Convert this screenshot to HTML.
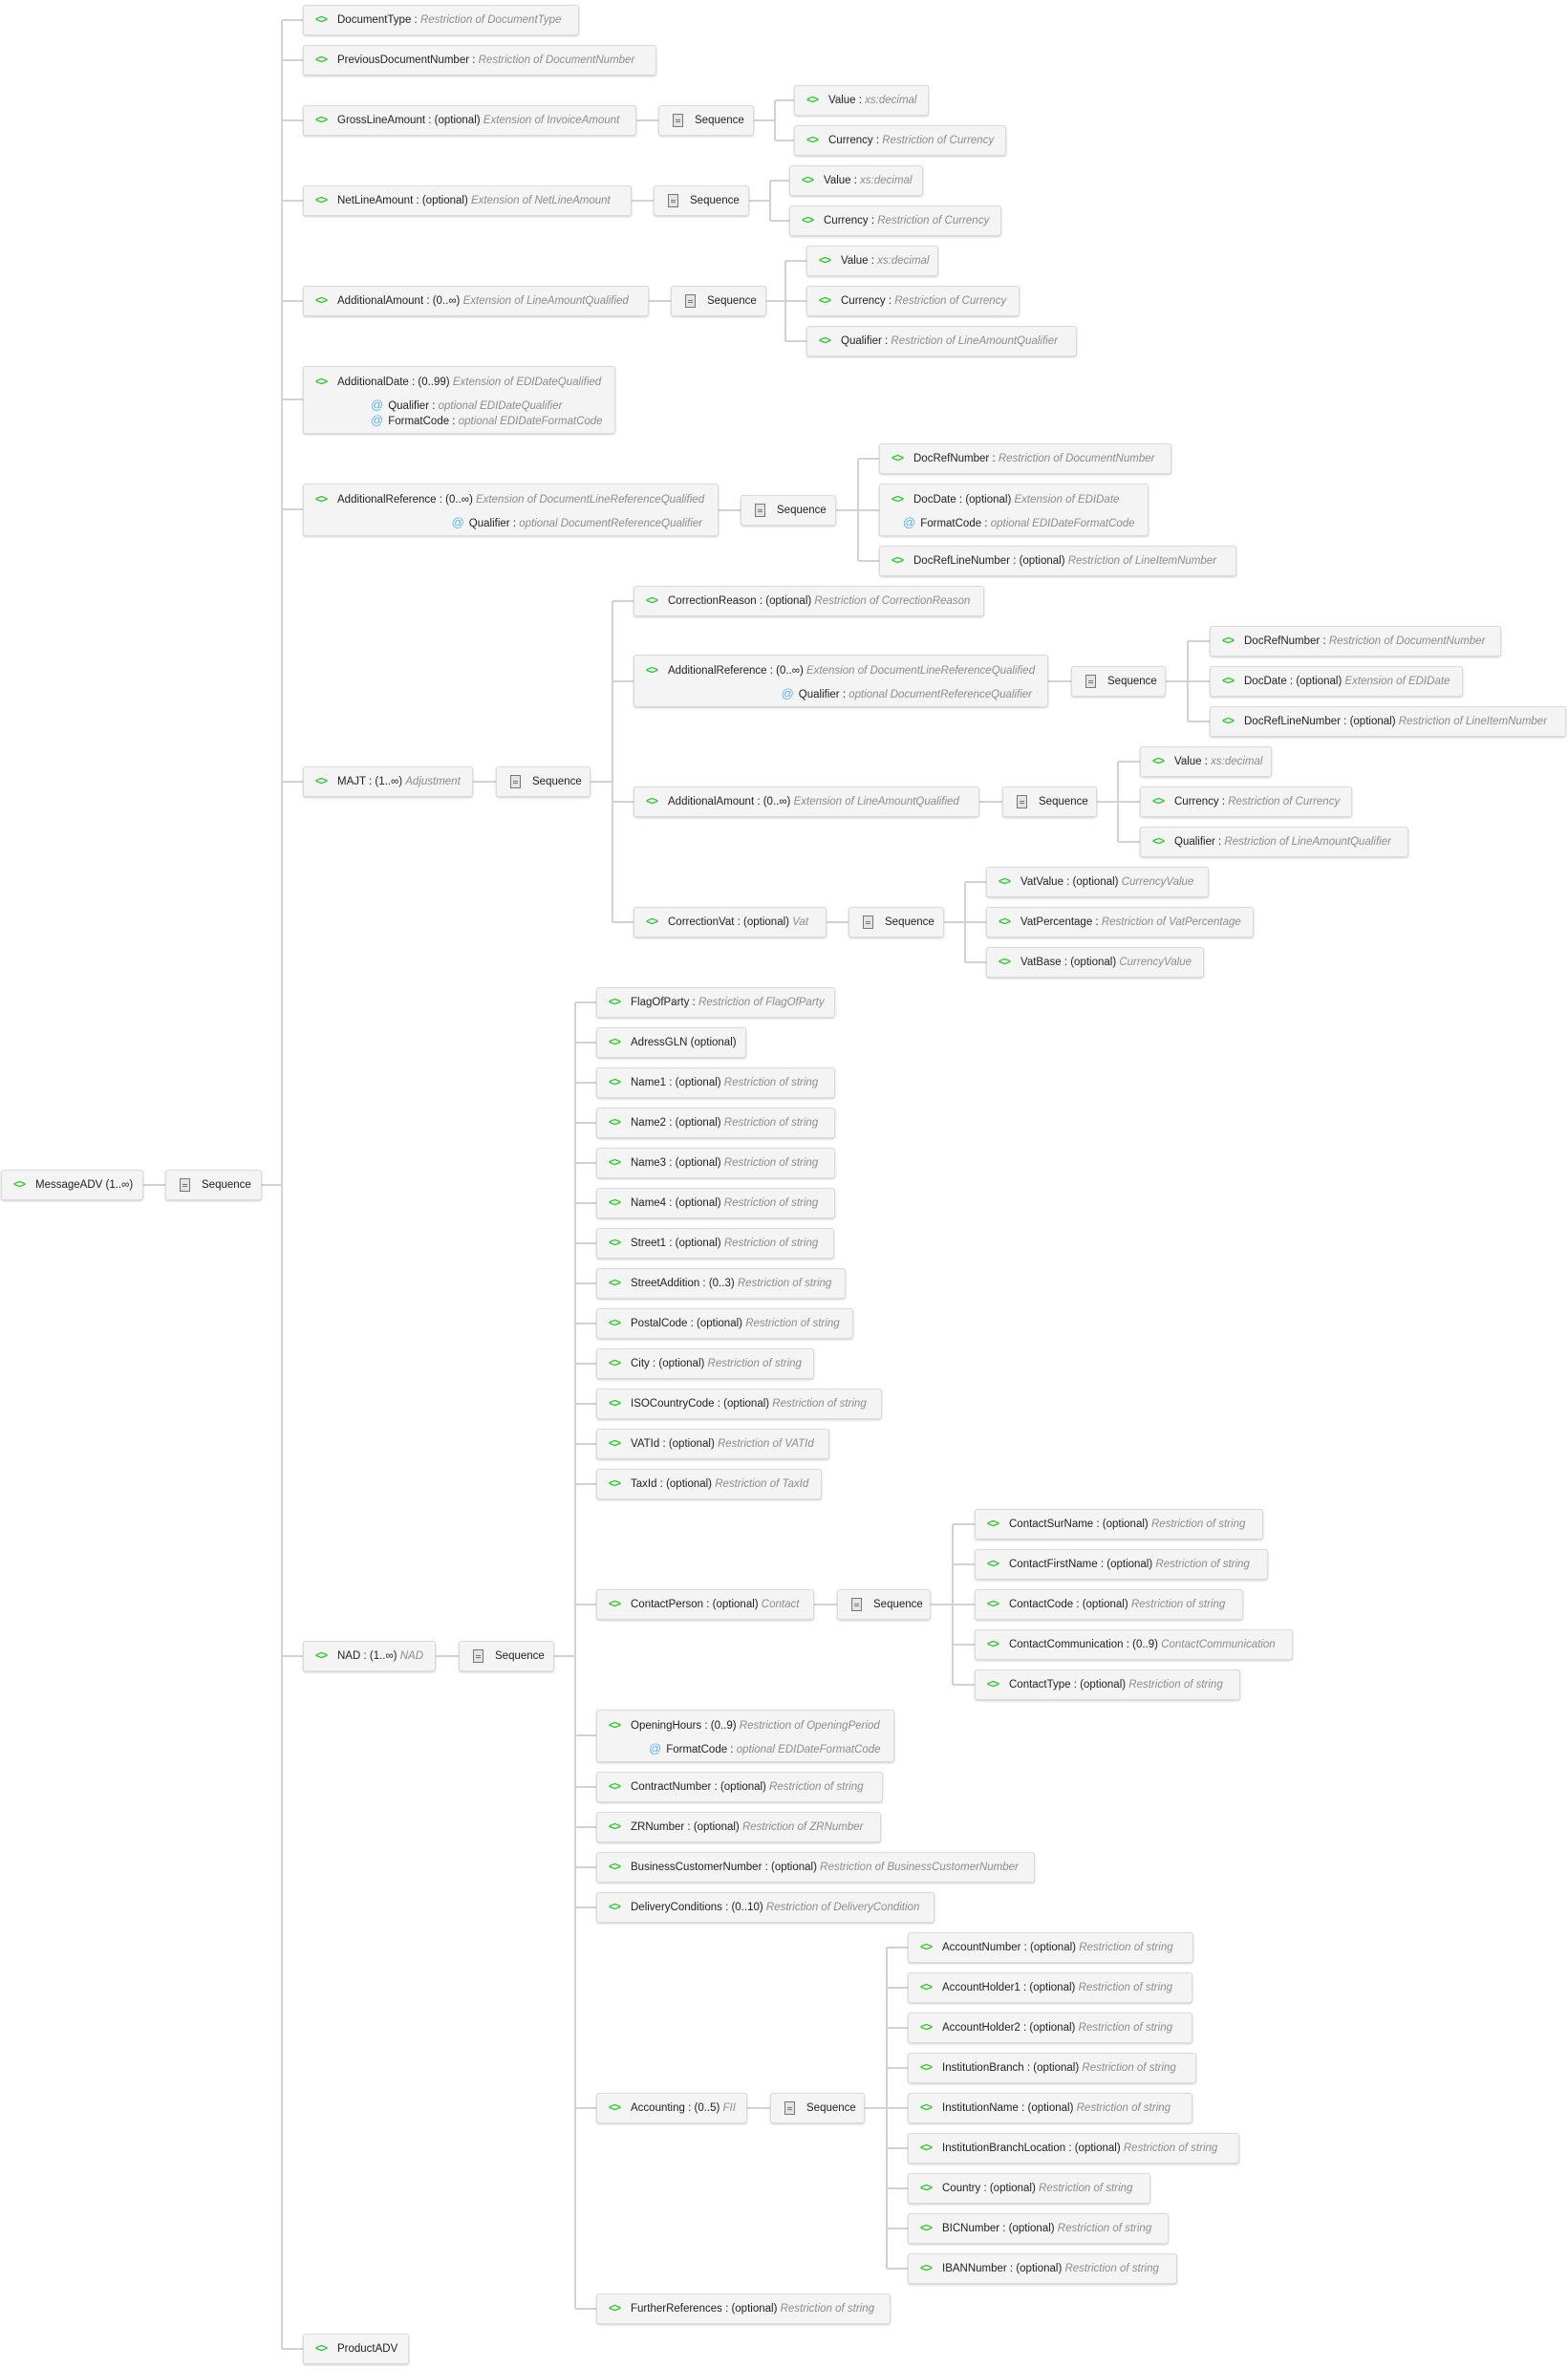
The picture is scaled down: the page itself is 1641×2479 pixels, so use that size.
<!DOCTYPE html>
<html><head><meta charset="utf-8"><style>
body{margin:0;width:1641px;height:2479px;background:#fff;position:relative;overflow:hidden;font-family:"Liberation Sans",sans-serif}
.n{position:absolute;height:32px;background:#f4f4f4;border:1px solid #dadada;border-radius:3px;box-shadow:0 1px 2px rgba(0,0,0,.2);box-sizing:border-box;white-space:nowrap;overflow:hidden;font-size:11.5px;color:#222}
.n .t{position:absolute;left:35px;top:8px;line-height:15px}
.n .e{position:absolute;left:12px;top:7px;color:#2ec82e;font-weight:bold;font-size:12px;line-height:15px;letter-spacing:-1px}
.g{color:#8c8c8c;font-style:italic}
.a{position:absolute;line-height:15px}
.at{color:#5ab4f5;font-size:13px;margin-right:5px}
.s .q{position:absolute;left:14px;top:8px;width:9px;height:12px;border:1px solid #777;background:#e4e4e4}
.s .q:before{content:"";position:absolute;left:2px;top:5px;width:5px;height:1px;background:#777;box-shadow:0 2px 0 #777}
.s .t{left:37px}
.h2{height:55px}.h3{height:71px}
.h2 .t,.h3 .t{top:9px}.h2 .e,.h3 .e{top:8px}
</style></head><body>
<svg width="1641" height="2479" style="position:absolute;left:0;top:0" fill="none" stroke="#d2d2d2" stroke-width="2">
<path d="M295 21V2458M295 21H317M295 63H317M295 126H317M295 210H317M295 315H317M295 418H317M295 533H317M295 818H317M295 1733H317M295 2458H317
M150 1240H173M274 1240H295
M666 126H689M789 126H811M811 105V147M811 105H831M811 147H831
M661 210H684M784 210H806M806 189V231M806 189H826M806 231H826
M679 315H702M802 315H822M822 273V357M822 273H844M822 315H844M822 357H844
M752 534H775M875 534H898M898 480V587M898 480H920M898 534H920M898 587H920
M495 818H519M618 818H641M641 629V965M641 629H663M641 713H663M641 839H663M641 965H663
M1097 713H1121M1220 713H1243M1243 671V755M1243 671H1266M1243 713H1266M1243 755H1266
M1025 839H1049M1148 839H1170M1170 797V881M1170 797H1193M1170 839H1193M1170 881H1193
M865 965H888M988 965H1010M1010 923V1007M1010 923H1032M1010 965H1032M1010 1007H1032
M456 1733H480M580 1733H602M602 1049V2416
M602 1049H624M602 1091H624M602 1133H624M602 1175H624M602 1217H624M602 1259H624M602 1301H624M602 1343H624M602 1385H624M602 1427H624M602 1469H624M602 1511H624M602 1553H624M602 1679H624M602 1816H624M602 1870H624M602 1912H624M602 1954H624M602 1996H624M602 2206H624M602 2416H624
M852 1679H876M974 1679H997M997 1595V1763M997 1595H1020M997 1637H1020M997 1679H1020M997 1721H1020M997 1763H1020
M782 2206H806M905 2206H928M928 2038V2374M928 2038H950M928 2080H950M928 2122H950M928 2164H950M928 2206H950M928 2248H950M928 2290H950M928 2332H950M928 2374H950"/>
</svg>

<div class="n" style="left:1px;top:1224px;width:149px"><span class="e">&lt;&gt;</span><span class="t">MessageADV (1..∞)</span></div>
<div class="n s" style="left:173px;top:1224px;width:101px"><span class="q"></span><span class="t">Sequence</span></div>

<div class="n" style="left:317px;top:5px;width:289px"><span class="e">&lt;&gt;</span><span class="t">DocumentType : <span class="g">Restriction of DocumentType</span></span></div>
<div class="n" style="left:317px;top:47px;width:370px"><span class="e">&lt;&gt;</span><span class="t">PreviousDocumentNumber : <span class="g">Restriction of DocumentNumber</span></span></div>

<div class="n" style="left:317px;top:110px;width:349px"><span class="e">&lt;&gt;</span><span class="t">GrossLineAmount : (optional) <span class="g">Extension of InvoiceAmount</span></span></div>
<div class="n s" style="left:689px;top:110px;width:100px"><span class="q"></span><span class="t">Sequence</span></div>
<div class="n" style="left:831px;top:89px;width:141px"><span class="e">&lt;&gt;</span><span class="t">Value : <span class="g">xs:decimal</span></span></div>
<div class="n" style="left:831px;top:131px;width:222px"><span class="e">&lt;&gt;</span><span class="t">Currency : <span class="g">Restriction of Currency</span></span></div>

<div class="n" style="left:317px;top:194px;width:344px"><span class="e">&lt;&gt;</span><span class="t">NetLineAmount : (optional) <span class="g">Extension of NetLineAmount</span></span></div>
<div class="n s" style="left:684px;top:194px;width:100px"><span class="q"></span><span class="t">Sequence</span></div>
<div class="n" style="left:826px;top:173px;width:140px"><span class="e">&lt;&gt;</span><span class="t">Value : <span class="g">xs:decimal</span></span></div>
<div class="n" style="left:826px;top:215px;width:222px"><span class="e">&lt;&gt;</span><span class="t">Currency : <span class="g">Restriction of Currency</span></span></div>

<div class="n" style="left:317px;top:299px;width:362px"><span class="e">&lt;&gt;</span><span class="t">AdditionalAmount : (0..∞) <span class="g">Extension of LineAmountQualified</span></span></div>
<div class="n s" style="left:702px;top:299px;width:100px"><span class="q"></span><span class="t">Sequence</span></div>
<div class="n" style="left:844px;top:257px;width:138px"><span class="e">&lt;&gt;</span><span class="t">Value : <span class="g">xs:decimal</span></span></div>
<div class="n" style="left:844px;top:299px;width:223px"><span class="e">&lt;&gt;</span><span class="t">Currency : <span class="g">Restriction of Currency</span></span></div>
<div class="n" style="left:844px;top:341px;width:283px"><span class="e">&lt;&gt;</span><span class="t">Qualifier : <span class="g">Restriction of LineAmountQualifier</span></span></div>

<div class="n h3" style="left:317px;top:383px;width:327px"><span class="e">&lt;&gt;</span><span class="t">AdditionalDate : (0..99) <span class="g">Extension of EDIDateQualified</span></span>
<span class="a" style="left:70px;top:32px"><span class="at">@</span>Qualifier : <span class="g">optional EDIDateQualifier</span></span>
<span class="a" style="left:70px;top:48px"><span class="at">@</span>FormatCode : <span class="g">optional EDIDateFormatCode</span></span></div>

<div class="n h2" style="left:317px;top:506px;width:435px"><span class="e">&lt;&gt;</span><span class="t">AdditionalReference : (0..∞) <span class="g">Extension of DocumentLineReferenceQualified</span></span>
<span class="a" style="right:16px;top:32px"><span class="at">@</span>Qualifier : <span class="g">optional DocumentReferenceQualifier</span></span></div>
<div class="n s" style="left:775px;top:518px;width:100px"><span class="q"></span><span class="t">Sequence</span></div>
<div class="n" style="left:920px;top:464px;width:306px"><span class="e">&lt;&gt;</span><span class="t">DocRefNumber : <span class="g">Restriction of DocumentNumber</span></span></div>
<div class="n h2" style="left:920px;top:506px;width:282px"><span class="e">&lt;&gt;</span><span class="t">DocDate : (optional) <span class="g">Extension of EDIDate</span></span>
<span class="a" style="left:24px;top:32px"><span class="at">@</span>FormatCode : <span class="g">optional EDIDateFormatCode</span></span></div>
<div class="n" style="left:920px;top:571px;width:374px"><span class="e">&lt;&gt;</span><span class="t">DocRefLineNumber : (optional) <span class="g">Restriction of LineItemNumber</span></span></div>

<div class="n" style="left:317px;top:802px;width:178px"><span class="e">&lt;&gt;</span><span class="t">MAJT : (1..∞) <span class="g">Adjustment</span></span></div>
<div class="n s" style="left:519px;top:802px;width:99px"><span class="q"></span><span class="t">Sequence</span></div>
<div class="n" style="left:663px;top:613px;width:367px"><span class="e">&lt;&gt;</span><span class="t">CorrectionReason : (optional) <span class="g">Restriction of CorrectionReason</span></span></div>
<div class="n h2" style="left:663px;top:685px;width:434px"><span class="e">&lt;&gt;</span><span class="t">AdditionalReference : (0..∞) <span class="g">Extension of DocumentLineReferenceQualified</span></span>
<span class="a" style="right:16px;top:32px"><span class="at">@</span>Qualifier : <span class="g">optional DocumentReferenceQualifier</span></span></div>
<div class="n s" style="left:1121px;top:697px;width:99px"><span class="q"></span><span class="t">Sequence</span></div>
<div class="n" style="left:1266px;top:655px;width:305px"><span class="e">&lt;&gt;</span><span class="t">DocRefNumber : <span class="g">Restriction of DocumentNumber</span></span></div>
<div class="n" style="left:1266px;top:697px;width:265px"><span class="e">&lt;&gt;</span><span class="t">DocDate : (optional) <span class="g">Extension of EDIDate</span></span></div>
<div class="n" style="left:1266px;top:739px;width:373px"><span class="e">&lt;&gt;</span><span class="t">DocRefLineNumber : (optional) <span class="g">Restriction of LineItemNumber</span></span></div>
<div class="n" style="left:663px;top:823px;width:362px"><span class="e">&lt;&gt;</span><span class="t">AdditionalAmount : (0..∞) <span class="g">Extension of LineAmountQualified</span></span></div>
<div class="n s" style="left:1049px;top:823px;width:99px"><span class="q"></span><span class="t">Sequence</span></div>
<div class="n" style="left:1193px;top:781px;width:138px"><span class="e">&lt;&gt;</span><span class="t">Value : <span class="g">xs:decimal</span></span></div>
<div class="n" style="left:1193px;top:823px;width:222px"><span class="e">&lt;&gt;</span><span class="t">Currency : <span class="g">Restriction of Currency</span></span></div>
<div class="n" style="left:1193px;top:865px;width:281px"><span class="e">&lt;&gt;</span><span class="t">Qualifier : <span class="g">Restriction of LineAmountQualifier</span></span></div>
<div class="n" style="left:663px;top:949px;width:202px"><span class="e">&lt;&gt;</span><span class="t">CorrectionVat : (optional) <span class="g">Vat</span></span></div>
<div class="n s" style="left:888px;top:949px;width:100px"><span class="q"></span><span class="t">Sequence</span></div>
<div class="n" style="left:1032px;top:907px;width:233px"><span class="e">&lt;&gt;</span><span class="t">VatValue : (optional) <span class="g">CurrencyValue</span></span></div>
<div class="n" style="left:1032px;top:949px;width:280px"><span class="e">&lt;&gt;</span><span class="t">VatPercentage : <span class="g">Restriction of VatPercentage</span></span></div>
<div class="n" style="left:1032px;top:991px;width:228px"><span class="e">&lt;&gt;</span><span class="t">VatBase : (optional) <span class="g">CurrencyValue</span></span></div>

<div class="n" style="left:317px;top:1717px;width:139px"><span class="e">&lt;&gt;</span><span class="t">NAD : (1..∞) <span class="g">NAD</span></span></div>
<div class="n s" style="left:480px;top:1717px;width:100px"><span class="q"></span><span class="t">Sequence</span></div>
<div class="n" style="left:624px;top:1033px;width:250px"><span class="e">&lt;&gt;</span><span class="t">FlagOfParty : <span class="g">Restriction of FlagOfParty</span></span></div>
<div class="n" style="left:624px;top:1075px;width:157px"><span class="e">&lt;&gt;</span><span class="t">AdressGLN (optional)</span></div>
<div class="n" style="left:624px;top:1117px;width:250px"><span class="e">&lt;&gt;</span><span class="t">Name1 : (optional) <span class="g">Restriction of string</span></span></div>
<div class="n" style="left:624px;top:1159px;width:250px"><span class="e">&lt;&gt;</span><span class="t">Name2 : (optional) <span class="g">Restriction of string</span></span></div>
<div class="n" style="left:624px;top:1201px;width:250px"><span class="e">&lt;&gt;</span><span class="t">Name3 : (optional) <span class="g">Restriction of string</span></span></div>
<div class="n" style="left:624px;top:1243px;width:250px"><span class="e">&lt;&gt;</span><span class="t">Name4 : (optional) <span class="g">Restriction of string</span></span></div>
<div class="n" style="left:624px;top:1285px;width:249px"><span class="e">&lt;&gt;</span><span class="t">Street1 : (optional) <span class="g">Restriction of string</span></span></div>
<div class="n" style="left:624px;top:1327px;width:261px"><span class="e">&lt;&gt;</span><span class="t">StreetAddition : (0..3) <span class="g">Restriction of string</span></span></div>
<div class="n" style="left:624px;top:1369px;width:269px"><span class="e">&lt;&gt;</span><span class="t">PostalCode : (optional) <span class="g">Restriction of string</span></span></div>
<div class="n" style="left:624px;top:1411px;width:228px"><span class="e">&lt;&gt;</span><span class="t">City : (optional) <span class="g">Restriction of string</span></span></div>
<div class="n" style="left:624px;top:1453px;width:299px"><span class="e">&lt;&gt;</span><span class="t">ISOCountryCode : (optional) <span class="g">Restriction of string</span></span></div>
<div class="n" style="left:624px;top:1495px;width:244px"><span class="e">&lt;&gt;</span><span class="t">VATId : (optional) <span class="g">Restriction of VATId</span></span></div>
<div class="n" style="left:624px;top:1537px;width:236px"><span class="e">&lt;&gt;</span><span class="t">TaxId : (optional) <span class="g">Restriction of TaxId</span></span></div>

<div class="n" style="left:624px;top:1663px;width:228px"><span class="e">&lt;&gt;</span><span class="t">ContactPerson : (optional) <span class="g">Contact</span></span></div>
<div class="n s" style="left:876px;top:1663px;width:98px"><span class="q"></span><span class="t">Sequence</span></div>
<div class="n" style="left:1020px;top:1579px;width:302px"><span class="e">&lt;&gt;</span><span class="t">ContactSurName : (optional) <span class="g">Restriction of string</span></span></div>
<div class="n" style="left:1020px;top:1621px;width:307px"><span class="e">&lt;&gt;</span><span class="t">ContactFirstName : (optional) <span class="g">Restriction of string</span></span></div>
<div class="n" style="left:1020px;top:1663px;width:281px"><span class="e">&lt;&gt;</span><span class="t">ContactCode : (optional) <span class="g">Restriction of string</span></span></div>
<div class="n" style="left:1020px;top:1705px;width:333px"><span class="e">&lt;&gt;</span><span class="t">ContactCommunication : (0..9) <span class="g">ContactCommunication</span></span></div>
<div class="n" style="left:1020px;top:1747px;width:278px"><span class="e">&lt;&gt;</span><span class="t">ContactType : (optional) <span class="g">Restriction of string</span></span></div>

<div class="n h2" style="left:624px;top:1789px;width:312px"><span class="e">&lt;&gt;</span><span class="t">OpeningHours : (0..9) <span class="g">Restriction of OpeningPeriod</span></span>
<span class="a" style="left:54px;top:32px"><span class="at">@</span>FormatCode : <span class="g">optional EDIDateFormatCode</span></span></div>
<div class="n" style="left:624px;top:1854px;width:300px"><span class="e">&lt;&gt;</span><span class="t">ContractNumber : (optional) <span class="g">Restriction of string</span></span></div>
<div class="n" style="left:624px;top:1896px;width:298px"><span class="e">&lt;&gt;</span><span class="t">ZRNumber : (optional) <span class="g">Restriction of ZRNumber</span></span></div>
<div class="n" style="left:624px;top:1938px;width:459px"><span class="e">&lt;&gt;</span><span class="t">BusinessCustomerNumber : (optional) <span class="g">Restriction of BusinessCustomerNumber</span></span></div>
<div class="n" style="left:624px;top:1980px;width:354px"><span class="e">&lt;&gt;</span><span class="t">DeliveryConditions : (0..10) <span class="g">Restriction of DeliveryCondition</span></span></div>

<div class="n" style="left:624px;top:2190px;width:158px"><span class="e">&lt;&gt;</span><span class="t">Accounting : (0..5) <span class="g">FII</span></span></div>
<div class="n s" style="left:806px;top:2190px;width:99px"><span class="q"></span><span class="t">Sequence</span></div>
<div class="n" style="left:950px;top:2022px;width:299px"><span class="e">&lt;&gt;</span><span class="t">AccountNumber : (optional) <span class="g">Restriction of string</span></span></div>
<div class="n" style="left:950px;top:2064px;width:298px"><span class="e">&lt;&gt;</span><span class="t">AccountHolder1 : (optional) <span class="g">Restriction of string</span></span></div>
<div class="n" style="left:950px;top:2106px;width:298px"><span class="e">&lt;&gt;</span><span class="t">AccountHolder2 : (optional) <span class="g">Restriction of string</span></span></div>
<div class="n" style="left:950px;top:2148px;width:302px"><span class="e">&lt;&gt;</span><span class="t">InstitutionBranch : (optional) <span class="g">Restriction of string</span></span></div>
<div class="n" style="left:950px;top:2190px;width:298px"><span class="e">&lt;&gt;</span><span class="t">InstitutionName : (optional) <span class="g">Restriction of string</span></span></div>
<div class="n" style="left:950px;top:2232px;width:347px"><span class="e">&lt;&gt;</span><span class="t">InstitutionBranchLocation : (optional) <span class="g">Restriction of string</span></span></div>
<div class="n" style="left:950px;top:2274px;width:254px"><span class="e">&lt;&gt;</span><span class="t">Country : (optional) <span class="g">Restriction of string</span></span></div>
<div class="n" style="left:950px;top:2316px;width:273px"><span class="e">&lt;&gt;</span><span class="t">BICNumber : (optional) <span class="g">Restriction of string</span></span></div>
<div class="n" style="left:950px;top:2358px;width:282px"><span class="e">&lt;&gt;</span><span class="t">IBANNumber : (optional) <span class="g">Restriction of string</span></span></div>
<div class="n" style="left:624px;top:2400px;width:308px"><span class="e">&lt;&gt;</span><span class="t">FurtherReferences : (optional) <span class="g">Restriction of string</span></span></div>

<div class="n" style="left:317px;top:2442px;width:111px"><span class="e">&lt;&gt;</span><span class="t">ProductADV</span></div>
</body></html>
